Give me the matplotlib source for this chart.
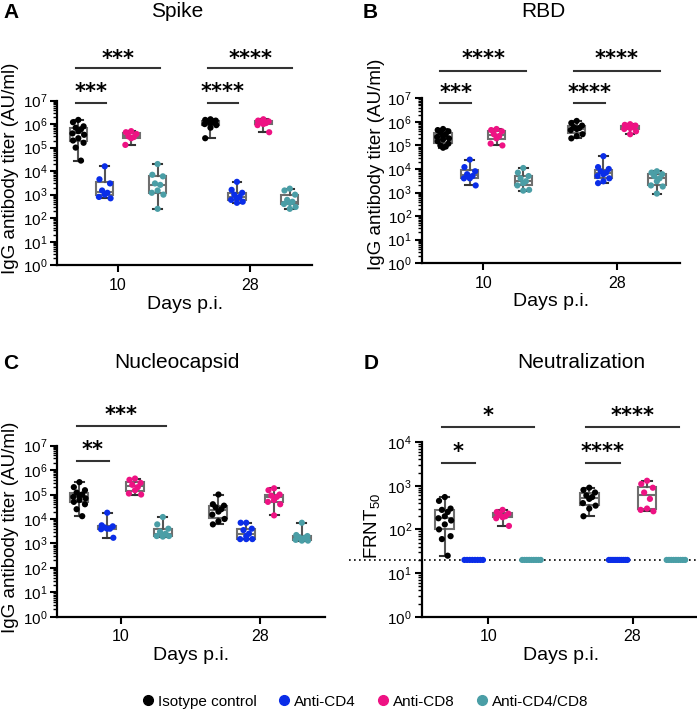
#antibody titer box plots, 4 panels

from matplotlib import pyplot as plt
from matplotlib.lines import Line2D
from matplotlib import ticker
import numpy as np

plt.rcParams['font.family'] = ['Liberation Sans', 'DejaVu Sans']
plt.rcParams['mathtext.fontset'] = 'custom'
plt.rcParams['mathtext.rm'] = 'Liberation Sans'
plt.rcParams['mathtext.default'] = 'regular'

groups = ['Isotype control', 'Anti-CD4', 'Anti-CD8', 'Anti-CD4/CD8']
colors = ['black', '#0a2de8', '#ee1283', '#4a9ea6']
days = ['10', '28']

# Spike (AU/ml), order: isotype, anti-CD4, anti-CD8, anti-CD4/CD8
spike_d10_iso = [1.5e6, 1.2e6, 8e5, 7e5, 6e5, 5e5, 4e5, 3.5e5, 2.5e5, 2e5, 1.6e5, 1e5, 2.8e4]
spike_d10_cd4 = [1.6e4, 4.5e3, 3e3, 1.5e3, 1.2e3, 1e3, 8e2, 7e2]
spike_d10_cd8 = [5e5, 4.5e5, 3.8e5, 3e5, 2.8e5, 2.5e5, 1.3e5]
spike_d10_cd48 = [2e4, 7e3, 6e3, 3e3, 2.6e3, 1.5e3, 1.2e3, 1e3, 2.5e2]
spike_d28_iso = [1.6e6, 1.5e6, 1.4e6, 1.3e6, 1.2e6, 1.1e6, 1e6, 9e5, 7e5, 2.5e5]
spike_d28_cd4 = [3.5e3, 1.6e3, 1.2e3, 1e3, 8e2, 7e2, 6e2, 5e2, 4.5e2]
spike_d28_cd8 = [1.6e6, 1.4e6, 1.3e6, 1.2e6, 1.1e6, 1e6, 9e5, 4.5e5]
spike_d28_cd48 = [1.8e3, 1.5e3, 1e3, 6e2, 5e2, 4.5e2, 4e2, 3e2, 2.5e2]

# RBD (AU/ml)
rbd_d10_iso = [5e5, 4.5e5, 4e5, 3.5e5, 3e5, 2.5e5, 2.3e5, 2e5, 1.8e5, 1.5e5, 1.2e5, 1e5, 9e4, 8e4]
rbd_d10_cd4 = [2.5e4, 1.2e4, 8e3, 6e3, 5e3, 4e3, 4e3, 2e3]
rbd_d10_cd8 = [5e5, 4.5e5, 4e5, 3e5, 2.5e5, 2e5, 1.2e5, 1e5]
rbd_d10_cd48 = [1.1e4, 7e3, 5e3, 4e3, 3e3, 2.5e3, 2e3, 1.3e3, 1.2e3]
rbd_d28_iso = [1.1e6, 9e5, 7e5, 6e5, 5.5e5, 5e5, 4.5e5, 3e5, 2.5e5, 2e5]
rbd_d28_cd4 = [3.5e4, 1.2e4, 1e4, 8e3, 7e3, 6e3, 5e3, 4e3, 3e3, 2.5e3]
rbd_d28_cd8 = [8e5, 7.5e5, 7e5, 6.5e5, 6e5, 5.5e5, 5e5, 4e5, 3e5]
rbd_d28_cd48 = [8e3, 7e3, 6e3, 5e3, 4e3, 3e3, 2e3, 1.8e3, 9e2]

# Nucleocapsid (AU/ml)
nuc_d10_iso = [3.2e5, 2e5, 1.5e5, 1.2e5, 1e5, 9e4, 8e4, 7e4, 6e4, 5e4, 4e4, 2.5e4, 1.3e4]
nuc_d10_cd4 = [1.8e4, 5.5e3, 5e3, 4.5e3, 4e3, 4e3, 3.8e3, 1.7e3]
nuc_d10_cd8 = [4.5e5, 4e5, 3e5, 2.5e5, 2e5, 1.5e5, 1.1e5, 1e5]
nuc_d10_cd48 = [1.2e4, 6e3, 4e3, 3e3, 2.5e3, 2.2e3, 2e3, 2e3, 1.9e3]
nuc_d28_iso = [1e5, 4e4, 3.5e4, 3e4, 2.5e4, 2e4, 1.5e4, 1e4, 8e3, 6e3]
nuc_d28_cd4 = [7e3, 7e3, 4e3, 3.5e3, 2.5e3, 2e3, 1.5e3, 1.5e3, 1.5e3]
nuc_d28_cd8 = [1.8e5, 1.5e5, 1e5, 9e4, 8e4, 6e4, 5e4, 4e4, 1.4e4]
nuc_d28_cd48 = [7e3, 2.2e3, 2e3, 1.8e3, 1.7e3, 1.5e3, 1.4e3, 1.3e3, 1.3e3]

# Neutralization (FRNT50), limit of detection 20
frnt_d10_iso = [5.5e2, 4.5e2, 3e2, 2.8e2, 2.5e2, 2e2, 1.8e2, 1.6e2, 1.3e2, 1e2, 7e1, 6e1, 2.5e1]
frnt_d10_cd4 = [20, 20, 20, 20, 20, 20, 20, 20]
frnt_d10_cd8 = [2.8e2, 2.5e2, 2.3e2, 2.2e2, 2e2, 1.9e2, 1.8e2, 1.2e2]
frnt_d10_cd48 = [20, 20, 20, 20, 20, 20, 20, 20, 20]
frnt_d28_iso = [9e2, 8e2, 7e2, 6e2, 5.5e2, 5e2, 4e2, 3.5e2, 3e2, 2e2]
frnt_d28_cd4 = [20, 20, 20, 20, 20, 20, 20, 20, 20, 20]
frnt_d28_cd8 = [1.3e3, 1.1e3, 9e2, 7e2, 5e2, 3e2, 2.8e2, 2.6e2]
frnt_d28_cd48 = [20, 20, 20, 20, 20, 20, 20, 20, 20]
frnt_lod = 20

day_pos = [0, 5]
offsets = [-1.5, -0.5, 0.5, 1.5]
jitter = [0.0, -0.2, 0.2, -0.1, 0.1, 0.0, -0.22, 0.22]

def draw_panel(ax, data, ymax):  #boxes + dots for both days
    for d, day_groups in enumerate(data):
        for g, vals in enumerate(day_groups):
            pos = day_pos[d] + offsets[g]
            ax.boxplot([vals], positions=[pos], widths=0.65, whis=(0, 100),
                       showfliers=False, patch_artist=True,
                       boxprops=dict(facecolor='white', edgecolor='#6e6e6e', linewidth=1.5),
                       medianprops=dict(color='#6e6e6e', linewidth=1.5),
                       whiskerprops=dict(color='#555555', linewidth=1.5),
                       capprops=dict(color='#333333', linewidth=1.5), zorder=2)
            vals = sorted(vals, reverse=True)
            if len(set(vals)) == 1:  #censored group: spread flat
                xs = pos + np.linspace(-0.32, 0.32, len(vals))
            else:
                xs = [pos + jitter[i % len(jitter)] for i in range(len(vals))]
            ax.scatter(xs, vals, s=20, color=colors[g], edgecolor='none', zorder=3, clip_on=False)
    ax.set_yscale('log')
    ax.set_ylim(1, ymax)
    ax.set_xlim(-2.3, 7.35)
    ax.set_xticks(day_pos)
    ax.set_xticklabels(days)
    ax.yaxis.set_major_locator(ticker.LogLocator(base=10, numticks=20))
    ax.yaxis.set_minor_locator(ticker.LogLocator(base=10, subs=np.arange(2, 10), numticks=20))
    ax.yaxis.set_minor_formatter(ticker.NullFormatter())
    ax.spines['top'].set_visible(False)
    ax.spines['right'].set_visible(False)
    ax.spines['left'].set_linewidth(1.6)
    ax.spines['bottom'].set_linewidth(1.6)
    ax.tick_params(axis='both', which='major', width=1.5, length=5, labelsize=11, pad=2)
    ax.tick_params(axis='x', which='major', labelsize=11.5, pad=4)
    ax.tick_params(axis='y', which='minor', width=1.0, length=3)
    ax.set_xlabel('Days p.i.', fontsize=14, labelpad=2)

def add_sig(ax, x1, x2, y, ys, text):  #significance bar with stars
    ax.plot([x1, x2], [y, y], color='#333333', linewidth=1.5, clip_on=False)
    ax.text((x1 + x2) / 2, ys, text, ha='center', va='center', fontsize=15,
            fontweight='bold', family='DejaVu Sans', clip_on=False)

fig = plt.figure(figsize=(6.97, 7.13), dpi=100)
axA = fig.add_axes([0.082, 0.628, 0.366, 0.231])
axB = fig.add_axes([0.605, 0.631, 0.370, 0.231])
axC = fig.add_axes([0.082, 0.135, 0.385, 0.240])
axD = fig.add_axes([0.605, 0.135, 0.400, 0.245])

draw_panel(axA, [[spike_d10_iso, spike_d10_cd4, spike_d10_cd8, spike_d10_cd48],
                 [spike_d28_iso, spike_d28_cd4, spike_d28_cd8, spike_d28_cd48]], 1e7)
draw_panel(axB, [[rbd_d10_iso, rbd_d10_cd4, rbd_d10_cd8, rbd_d10_cd48],
                 [rbd_d28_iso, rbd_d28_cd4, rbd_d28_cd8, rbd_d28_cd48]], 1e7)
draw_panel(axC, [[nuc_d10_iso, nuc_d10_cd4, nuc_d10_cd8, nuc_d10_cd48],
                 [nuc_d28_iso, nuc_d28_cd4, nuc_d28_cd8, nuc_d28_cd48]], 1e7)
draw_panel(axD, [[frnt_d10_iso, frnt_d10_cd4, frnt_d10_cd8, frnt_d10_cd48],
                 [frnt_d28_iso, frnt_d28_cd4, frnt_d28_cd8, frnt_d28_cd48]], 1e4)
axD.axhline(frnt_lod, xmin=-0.26, xmax=1.0, color='black', linestyle=(0, (1, 2)),
            linewidth=1.2, clip_on=False, zorder=1)

for ax in [axA, axB, axC]:
    ax.set_ylabel('IgG antibody titer (AU/ml)', fontsize=13.5)
axD.set_ylabel('FRNT$_{50}$', fontsize=13.5)
axA.yaxis.set_label_coords(-0.15, 0.59)
axB.yaxis.set_label_coords(-0.143, 0.60)
axC.yaxis.set_label_coords(-0.142, 0.52)
axD.yaxis.set_label_coords(-0.143, 0.52)

# significance bars
add_sig(axA, -1.6, -0.45, 8e6, 2.2e7, '***')
add_sig(axA, -1.6, 1.6, 2.3e8, 6e8, '***')
add_sig(axA, 3.4, 4.55, 8e6, 2.2e7, '****')
add_sig(axA, 3.4, 6.6, 2.3e8, 6e8, '****')
add_sig(axB, -1.6, -0.45, 6.1e6, 1.7e7, '***')
add_sig(axB, -1.6, 1.6, 1.5e8, 4.5e8, '****')
add_sig(axB, 3.4, 4.55, 6.1e6, 1.7e7, '****')
add_sig(axB, 3.4, 6.6, 1.5e8, 4.5e8, '****')
add_sig(axC, -1.6, -0.45, 2.4e6, 6.9e6, '**')
add_sig(axC, -1.6, 1.6, 6.6e7, 1.8e8, '***')
add_sig(axD, -1.6, -0.45, 3.3e3, 5.9e3, '*')
add_sig(axD, -1.6, 1.6, 2.2e4, 3.9e4, '*')
add_sig(axD, 3.4, 4.55, 3.3e3, 5.9e3, '****')
add_sig(axD, 3.4, 6.6, 2.2e4, 3.9e4, '****')

# titles and panel letters
fig.text(0.254, 0.984, 'Spike', ha='center', va='center', fontsize=15)
fig.text(0.779, 0.984, 'RBD', ha='center', va='center', fontsize=15)
fig.text(0.254, 0.491, 'Nucleocapsid', ha='center', va='center', fontsize=15)
fig.text(0.834, 0.492, 'Neutralization', ha='center', va='center', fontsize=15)
fig.text(0.005, 0.982, 'A', ha='left', va='center', fontsize=15, fontweight='bold')
fig.text(0.520, 0.982, 'B', ha='left', va='center', fontsize=15, fontweight='bold')
fig.text(0.005, 0.490, 'C', ha='left', va='center', fontsize=15, fontweight='bold')
fig.text(0.522, 0.490, 'D', ha='left', va='center', fontsize=15, fontweight='bold')

handles = [Line2D([], [], marker='o', linestyle='none', color=c, markersize=7) for c in colors]
fig.legend(handles, groups, loc='center', bbox_to_anchor=(0.523, 0.016), ncol=4,
           frameon=False, fontsize=11, handletextpad=0.15, handlelength=1.0,
           columnspacing=1.3)

plt.savefig('out.png', dpi=100)
